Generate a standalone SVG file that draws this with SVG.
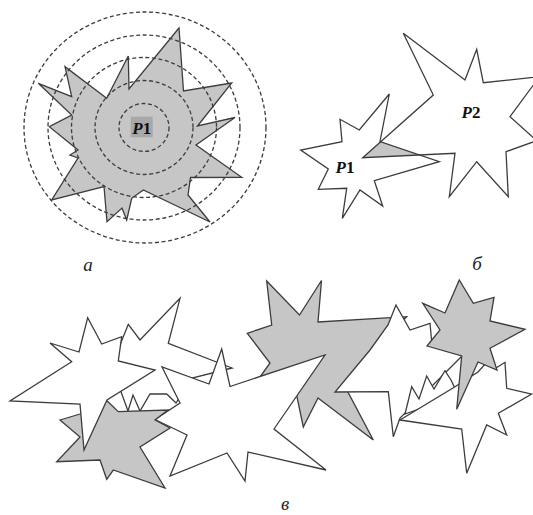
<svg xmlns="http://www.w3.org/2000/svg" width="533" height="515" viewBox="0 0 533 515">
<style>
.s{stroke:#3c3c3c;stroke-width:1.3;stroke-linejoin:miter}
.g{fill:#c6c6c6}
.w{fill:#ffffff}
.d{fill:none;stroke:#3c3c3c;stroke-width:1.3;stroke-dasharray:4 2.6}
.lbl{font-family:"Liberation Serif",serif;font-style:italic;font-size:19px;fill:#222}
.p{font-family:"Liberation Serif",serif;font-weight:bold;font-size:17px;fill:#111}
</style>
<rect width="533" height="515" fill="#fff"/>
<g id="part-a">
<polygon class="s g" points="179,28 183.5,91 231.7,83 197.5,126 235,117.5 196,145 241.7,177.3 190.5,177.5 188,195 210,222 143.3,190 131.7,198.3 126.7,220 122,208 107,221.7 104,186.5 51.7,200 78,158 70,155 78,150 49.3,126.7 71.7,115 38.3,83.3 71.7,96.7 65,66.7 106.7,98.3 128.3,56 129,89"/>
<ellipse class="d" cx="144" cy="127.5" rx="25" ry="24"/>
<ellipse class="d" cx="144" cy="127.5" rx="49" ry="47"/>
<ellipse class="d" cx="144" cy="127.5" rx="72.5" ry="70"/>
<ellipse class="d" cx="144" cy="127.5" rx="96" ry="92.5"/>
<ellipse class="d" cx="145" cy="127.5" rx="121" ry="115.5"/>
<rect x="130.7" y="116.7" width="22" height="20.6" fill="#a8a8a8"/>
<text class="p" x="141.7" y="134" text-anchor="middle"><tspan font-style="italic">P</tspan>1</text>
<text class="lbl" x="88" y="271" text-anchor="middle">а</text>
</g>
<g id="part-b">
<polygon points="380,141.8 362.7,157.7 420,155" fill="#c6c6c6"/>
<polygon class="s" fill="none" points="389.3,94 359.3,130 340,119.3 342,141.7 300.7,150 328.3,169 318.3,189.3 346.7,188.3 342.3,218.3 360,190 382.7,206 374.3,180.7 439.3,161.7 380,141.5"/>
<polygon class="s" fill="none" points="403.3,33.3 465,80 476.7,49.3 483.3,82.7 539.5,76.7 510,116.7 536.7,140.7 506,151.7 508.3,196.7 476.7,161.7 449.3,196.7 455,153.3 362.7,157.7 433.3,95"/>
<text class="p" x="345" y="173" text-anchor="middle"><tspan font-style="italic">P</tspan>1</text>
<text class="p" x="471" y="118" text-anchor="middle"><tspan font-style="italic">P</tspan>2</text>
<text class="lbl" x="477" y="270" text-anchor="middle">б</text>
</g>
<g id="part-c">
<polygon id="starD" class="s w" points="128.3,324.3 140,340 180,298.3 168.3,343.3 232,368 192,378 176,403 166.7,394 150,394 140,411 133,395 128,411 120,389 113,386 110,370"/>
<polygon id="starE" class="s g" points="266.7,281 299.5,315 321.5,280.5 318,322 406.7,316.7 343.3,383.3 373.3,440 318,398 303.3,427 296,392 255,384 270,363 247.3,333.3 271.7,325"/>
<polygon id="starF" class="s w" points="396,305 410,330 430,323.3 432,345 470,348 400,418 393.3,436.7 388.3,391.7 335,392 370,350 388,325"/>
<polygon id="starI" class="s w" points="405,414 411.7,386.7 419,399 426.7,376 434,389 445,370.7 451,380 458,395"/>
<polygon id="starG" class="s w" points="400,420 453,388 478,372 487,362 496,368 505,362.3 506.7,388.3 531.7,394 498.3,413.3 506.7,435 486.7,425 466.7,473.3 461.7,429"/>
<polygon id="starH" class="s g" points="459.3,280 473.3,303.3 494,297.3 490,321 525,329.3 490,348.3 497,370 478,362 456.7,409.3 461.7,356 427,346 440,330 422.7,303.3 445,313"/>
<polygon id="starC" class="s w" points="221.7,349 230,386.5 325,355 274,429 326,470 248,452 245,481 227,453 170,476 187,435 155,419.5 180,403 162,367 209,384"/>
<polygon id="starB" class="s g" points="60,420 80,414 106.7,400.5 118.3,411.7 168,410 155,420 170,428 140,447 165,488 113.3,470 106.7,479.3 100,460 56.7,461.7 80,437"/>
<polygon id="starA" class="s w" points="87.7,317.7 79,352 50,343 71.7,361.7 10,401 80,404 84,450 107,400 155,370 118.3,361 121.7,336.7 101.7,344"/>
<text class="lbl" x="285" y="510" text-anchor="middle" font-size="18">в</text>
</g>
</svg>
